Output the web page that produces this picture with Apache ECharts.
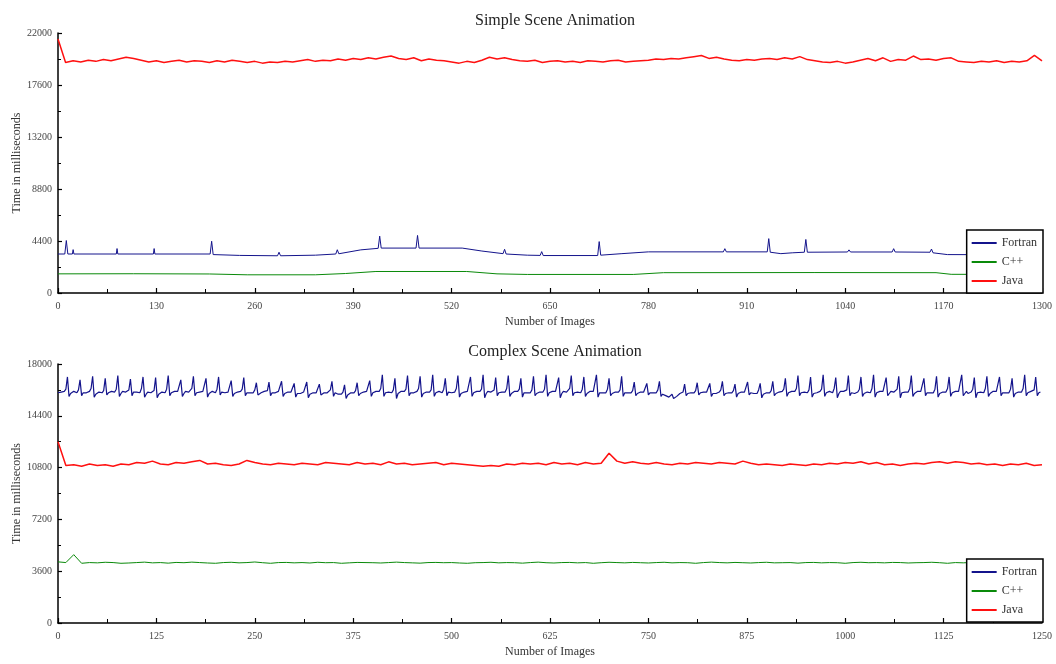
<!DOCTYPE html>
<html>
<head>
<meta charset="utf-8">
<script src="https://cdn.jsdelivr.net/npm/echarts@6/dist/echarts.min.js"></script>
<style>
html,body{margin:0;padding:0;background:#fff;}
#chart{width:1056px;height:664px;}
</style>
</head>
<body>
<div id="chart"></div>
<script>
// ---------- DATA ----------
const seriesNames = ['Fortran', 'C++', 'Java'];
const seriesColors = ['#14148c', '#0a8a0a', '#ff1010'];

// Simple scene (top) tick labels
const simpleXTicks = [0, 130, 260, 390, 520, 650, 780, 910, 1040, 1170, 1300];
const simpleYTicks = [0, 4400, 8800, 13200, 17600, 22000];
// Complex scene (bottom) tick labels
const complexXTicks = [0, 125, 250, 375, 500, 625, 750, 875, 1000, 1125, 1250];
const complexYTicks = [0, 3600, 7200, 10800, 14400, 18000];

// Simple scene: Java, one value every 10 images (image 0..1300)
const javaSimpleStep = 10;
const javaSimple = [
  21500,
  19500, 19650, 19550, 19700, 19600, 19750, 19650, 19800, 19950, 19850,
  19700, 19550, 19650, 19500, 19600, 19700, 19550, 19650, 19600, 19500,
  19650, 19550, 19700, 19600, 19500, 19600, 19450, 19550, 19500, 19600,
  19550, 19650, 19750, 19600, 19700, 19650, 19800, 19700, 19850, 19750,
  19900, 19800, 19950, 20050, 19850, 19750, 19900, 19650, 19800, 19700,
  19650, 19550, 19450, 19600, 19500, 19700, 19950, 19800, 19900, 19750,
  19650, 19600, 19700, 19500, 19600, 19650, 19550, 19600, 19500, 19650,
  19600, 19550, 19650, 19700, 19550, 19600, 19650, 19700, 19800, 19750,
  19850, 19800, 19900, 20000, 20100, 19850, 19950, 19800, 19700, 19650,
  19750, 19700, 19800, 19850, 19750, 19900, 19800, 20000, 19750, 19650,
  19550, 19500, 19600, 19450, 19550, 19700, 19850, 19650, 19900, 19600,
  19750, 19700, 20050, 19750, 19800, 19700, 19850, 19900, 19600, 19550,
  19500, 19600, 19550, 19650, 19500, 19600, 19550, 19650, 20100, 19650
];

// Simple scene: Fortran, [image, ms] points (baseline with spikes)
const fortranSimple = [
  [0,3300],[9,3300],[11,4440],[13,3300],[19,3300],[20,3670],[21,3300],
  [77,3300],[78,3760],[79,3300],[126,3300],[127,3760],[128,3300],
  [201,3300],[203,4380],[205,3250],[240,3180],[290,3150],[292,3450],[294,3150],
  [340,3200],[367,3300],[369,3660],[371,3320],[400,3650],[423,3780],[425,4810],[427,3800],
  [473,3800],[475,4870],[477,3800],[534,3800],[560,3550],[588,3330],[590,3700],[592,3300],
  [620,3200],[637,3180],[639,3500],[641,3170],[713,3170],[715,4350],[717,3200],
  [745,3330],[780,3480],[879,3480],[881,3750],[883,3480],
  [937,3480],[939,4600],[941,3450],[955,3330],[970,3400],
  [986,3450],[988,4530],[990,3450],[1043,3470],[1045,3650],[1047,3470],
  [1102,3470],[1104,3750],[1106,3470],[1152,3450],[1154,3720],[1156,3400],
  [1175,3250],[1300,3230]
];

// Simple scene: C++, [image, ms] points
const cppSimple = [
  [0,1620],[100,1630],[200,1610],[250,1540],[340,1540],[380,1650],[420,1820],
  [540,1820],[580,1620],[620,1570],[760,1570],[800,1720],[1000,1730],
  [1160,1720],[1180,1580],[1300,1570]
];

// Complex scene: Fortran, one value every 2 images (image 0..1248)
const fortranComplexStep = 2;
const fortranComplex = [
  16000,16050,
  16050,16000,16100,16250,17100,15750,15950,16050,
  16100,16050,16000,16200,16900,15800,16000,16100,
  16000,16050,16100,16300,17150,15700,15900,16000,
  16050,16100,16000,16150,17000,15850,16000,16050,
  16100,16000,16050,16250,17200,15750,15950,16100,
  16000,16050,16100,16200,16950,15800,16050,16000,
  16050,16100,16000,16300,17100,15700,15900,16050,
  15950,16000,16050,16150,17050,15650,15900,16000,
  16050,16100,16000,16250,17200,15800,16000,16050,
  16100,16050,16100,16200,16900,15750,15950,16100,
  16000,16050,16100,16300,17150,15800,16000,16050,
  16050,16000,16100,16200,17000,15700,15950,16000,
  16100,16050,16000,16250,17100,15850,16050,16100,
  16000,16100,16050,16150,16850,15750,15950,16000,
  16050,16000,16100,16250,17050,15800,16000,16050,
  16000,16050,16000,16200,16700,15850,15950,16000,
  16050,16100,16050,16150,16750,15800,16000,16050,
  16000,16050,16100,16200,16800,15750,15950,16000,
  16050,16000,16050,16100,16650,15700,15950,16000,
  15950,16000,16050,16150,16750,15650,15900,15950,
  16000,16050,16000,16100,16600,15850,15950,16000,
  16050,16000,16100,16200,16800,15750,16000,16050,
  15900,15850,15900,16050,16550,15600,15850,15950,
  16000,16050,16000,16150,16700,15800,15950,16000,
  16050,16000,16100,16200,16850,15750,16000,16050,
  16100,16050,16100,16300,17250,15750,16000,16100,
  16050,16100,16000,16200,17000,15600,15950,16050,
  16100,16050,16100,16250,17200,15800,16000,16100,
  16000,16050,16100,16300,17150,15700,15950,16000,
  16050,16100,16050,16200,17250,15750,16000,16050,
  16100,16050,16000,16250,17000,15800,16050,16100,
  16000,16100,16050,16300,17200,15700,15950,16000,
  16050,16000,16100,16200,17100,15750,16000,16050,
  16100,16050,16100,16250,17250,15650,15950,16100,
  16000,16050,16000,16200,17050,15800,16000,16000,
  16050,16100,16050,16300,17200,15750,15950,16050,
  16100,16050,16100,16250,17000,15700,16000,16100,
  16000,16050,16000,16200,17150,15800,15950,16000,
  16050,16100,16050,16250,17250,15750,16000,16050,
  16100,16000,16100,16200,17050,15650,15950,16100,
  16000,16050,16050,16300,17200,15800,16000,16000,
  16050,16100,16000,16250,17100,15750,15950,16050,
  16100,16050,16100,16200,17250,15700,16000,16100,
  16000,16050,16000,16250,17000,15800,15950,16000,
  16050,16100,16050,16200,17150,15750,16000,16050,
  16000,16050,16000,16150,16750,15800,15950,16000,
  16050,16000,16050,16100,16650,15850,16000,16050,
  16000,16050,16000,16200,16800,15750,15900,15850,
  15800,15750,15700,15650,15900,15600,15700,15750,
  15850,15950,16000,16050,16600,15800,15950,16000,
  16000,16050,16000,16150,16700,15850,16000,16000,
  16050,16000,16050,16100,16650,15750,15950,16050,
  15950,16000,16050,16200,16800,15800,15950,15950,
  16000,16050,16000,16150,16600,15700,15950,16000,
  16050,16000,16050,16100,16750,15850,16000,16050,
  15950,16000,15950,16200,16650,15650,15900,15950,
  16000,16050,16000,16150,16800,15800,15950,16000,
  16050,16000,16100,16250,17000,15750,16000,16050,
  16100,16050,16100,16300,17200,15800,16000,16100,
  16050,16100,16000,16200,17100,15700,15950,16050,
  16000,16050,16100,16250,17250,15750,16000,16000,
  16100,16050,16000,16300,17050,15650,15950,16100,
  16050,16100,16050,16200,17200,15800,16000,16050,
  15950,16000,16050,16250,17100,15750,15950,15950,
  16050,16100,16000,16300,17250,15700,16000,16050,
  16100,16050,16100,16200,17050,15800,15950,16100,
  16000,16050,16000,16250,17150,15650,16000,16000,
  16050,16100,16050,16300,17200,15750,15950,16050,
  16100,16050,16100,16200,17000,15800,16000,16100,
  16000,16050,16000,16250,17150,15700,15950,16000,
  16050,16100,16050,16300,17100,15750,16000,16050,
  16100,16050,16100,16200,17250,15800,15950,16100,
  15950,16000,16050,16250,17050,15650,16000,15950,
  16050,16100,16000,16300,17150,15750,15950,16050,
  16100,16050,16100,16200,17100,15800,16000,16100,
  16000,16050,16000,16250,17000,15700,15950,16000,
  16050,16100,16050,16300,17250,15800,16000,16050,
  16100,16050,16200,17100,15800,16000,16050
];

// Complex scene: Java, one value every 10 images (image 0..1250)
const javaComplexStep = 10;
const javaComplex = [
  12600,
  10950, 11000, 10900, 11050, 10950, 11000, 10900, 11050, 11000, 11150,
  11100, 11250, 11050, 11000, 11150, 11100, 11200, 11300, 11050, 11100,
  11000, 10950, 11050, 11300, 11150, 11050, 11000, 11100, 11050, 11000,
  11100, 11050, 11000, 11150, 11100, 11050, 11000, 11150, 11050, 11100,
  11000, 11200, 11050, 11100, 11000, 11050, 11100, 11150, 11000, 11100,
  11050, 11000, 10950, 10900, 10950, 10900, 11050, 11000, 11100, 11050,
  11100, 11000, 11150, 11050, 11100, 11000, 11150, 11050, 11100, 11800,
  11250, 11100, 11200, 11100, 11050, 11150, 11050, 11000, 11100, 11050,
  11150, 11100, 11050, 11150, 11100, 11050, 11250, 11100, 11000, 11050,
  11000, 10950, 11050, 11000, 10950, 11050, 11000, 11100, 11050, 11150,
  11100, 11200, 11050, 11150, 11000, 11050, 10950, 11050, 11100, 11050,
  11150, 11200, 11100, 11200, 11150, 11050, 11100, 11000, 11050, 10950,
  11050, 11000, 11100, 10950, 11000
];

// Complex scene: C++, one value every 10 images (image 0..1250)
const cppComplexStep = 10;
const cppComplex = [
  4250,4200,4750,4150,4200,4180,4220,4200,4150,4170,
  4200,4230,4180,4200,4160,4210,4190,4230,4200,4170,
  4150,4200,4220,4180,4200,4240,4190,4150,4200,4210,
  4180,4200,4170,4220,4190,4200,4150,4180,4210,4200,
  4190,4170,4200,4230,4200,4180,4160,4200,4210,4190,
  4200,4170,4150,4190,4200,4220,4180,4200,4190,4160,
  4200,4230,4190,4170,4200,4210,4180,4200,4150,4190,
  4220,4200,4180,4210,4190,4170,4200,4220,4180,4200,
  4190,4150,4200,4230,4200,4180,4210,4190,4170,4200,
  4220,4180,4190,4200,4160,4200,4210,4180,4200,4190,
  4150,4200,4220,4190,4200,4180,4210,4200,4170,4190,
  4200,4220,4190,4150,4200,4180,4210,4200,4190,4200,
  4180,4200,4210,4190,4200,4180
];

// ---------- CHART ----------
const FONT = '"Liberation Serif", "DejaVu Serif", serif';
const stepped = (arr, step) => arr.map((v, i) => [i * step, v]);

function xAxisCfg(grid, ticks) {
  return {
    gridIndex: grid, type: 'value',
    min: ticks[0], max: ticks[ticks.length - 1], interval: ticks[1] - ticks[0],
    name: 'Number of Images', nameLocation: 'middle', nameGap: 23, nameMoveOverlap: false,
    nameTextStyle: { fontFamily: FONT, fontSize: 12, color: '#333' },
    axisLine: { show: true, lineStyle: { color: '#000', width: 1.5 } },
    axisTick: { show: true, inside: true, length: 5, lineStyle: { color: '#000', width: 1.2 } },
    minorTick: { show: true, splitNumber: 2, length: 4, lineStyle: { color: '#000', width: 1 } },
    splitLine: { show: false },
    axisLabel: { fontFamily: FONT, fontSize: 10, color: '#444', margin: 8, formatter: v => String(v) }
  };
}
function yAxisCfg(grid, ticks) {
  return {
    gridIndex: grid, type: 'value',
    min: ticks[0], max: ticks[ticks.length - 1], interval: ticks[1] - ticks[0],
    name: 'Time in milliseconds', nameLocation: 'middle', nameGap: 35, nameMoveOverlap: false,
    nameTextStyle: { fontFamily: FONT, fontSize: 12, color: '#333' },
    axisLine: { show: true, lineStyle: { color: '#000', width: 1.5 } },
    axisTick: { show: true, inside: true, length: 4, lineStyle: { color: '#000', width: 1.2 } },
    minorTick: { show: true, splitNumber: 2, length: 3, lineStyle: { color: '#000', width: 1 } },
    splitLine: { show: false },
    axisLabel: { fontFamily: FONT, fontSize: 10, color: '#444', margin: 6, formatter: v => String(v) }
  };
}
function legendCfg(top) {
  return {
    orient: 'vertical', right: 13, top: top,
    data: seriesNames,
    icon: 'rect', itemWidth: 25, itemHeight: 2, itemGap: 5,
    padding: [6, 6, 5, 5],
    borderColor: '#000', borderWidth: 1.5, borderRadius: 0,
    backgroundColor: '#fff',
    textStyle: { fontFamily: FONT, fontSize: 12, color: '#333', lineHeight: 14 },
    selectedMode: false
  };
}
function line(name, data, grid, width) {
  const c = seriesColors[seriesNames.indexOf(name)];
  return {
    name: name, type: 'line', xAxisIndex: grid, yAxisIndex: grid,
    data: data, symbol: 'none', showSymbol: false,
    lineStyle: { color: c, width: width || 1 }, itemStyle: { color: c },
    animation: false
  };
}

const chart = echarts.init(document.getElementById('chart'), null, { renderer: 'canvas' });
chart.setOption({
  animation: false,
  backgroundColor: '#fff',
  title: [
    { text: 'Simple Scene Animation', left: 550, top: 8, textAlign: 'center',
      textStyle: { fontFamily: FONT, fontSize: 16, fontWeight: 'normal', color: '#222' } },
    { text: 'Complex Scene Animation', left: 550, top: 339, textAlign: 'center',
      textStyle: { fontFamily: FONT, fontSize: 16, fontWeight: 'normal', color: '#222' } }
  ],
  legend: [legendCfg(230), legendCfg(559)],
  grid: [
    { left: 58, right: 14, top: 33, height: 260, containLabel: false, outerBoundsMode: 'none' },
    { left: 58, right: 14, top: 364, height: 259, containLabel: false, outerBoundsMode: 'none' }
  ],
  xAxis: [xAxisCfg(0, simpleXTicks), xAxisCfg(1, complexXTicks)],
  yAxis: [yAxisCfg(0, simpleYTicks), yAxisCfg(1, complexYTicks)],
  series: [
    line('Fortran', fortranSimple, 0),
    line('C++', cppSimple, 0),
    line('Java', stepped(javaSimple, javaSimpleStep), 0, 1.5),
    line('Fortran', stepped(fortranComplex, fortranComplexStep), 1, 1.2),
    line('C++', stepped(cppComplex, cppComplexStep), 1),
    line('Java', stepped(javaComplex, javaComplexStep), 1, 1.5)
  ]
});
</script>
</body>
</html>
